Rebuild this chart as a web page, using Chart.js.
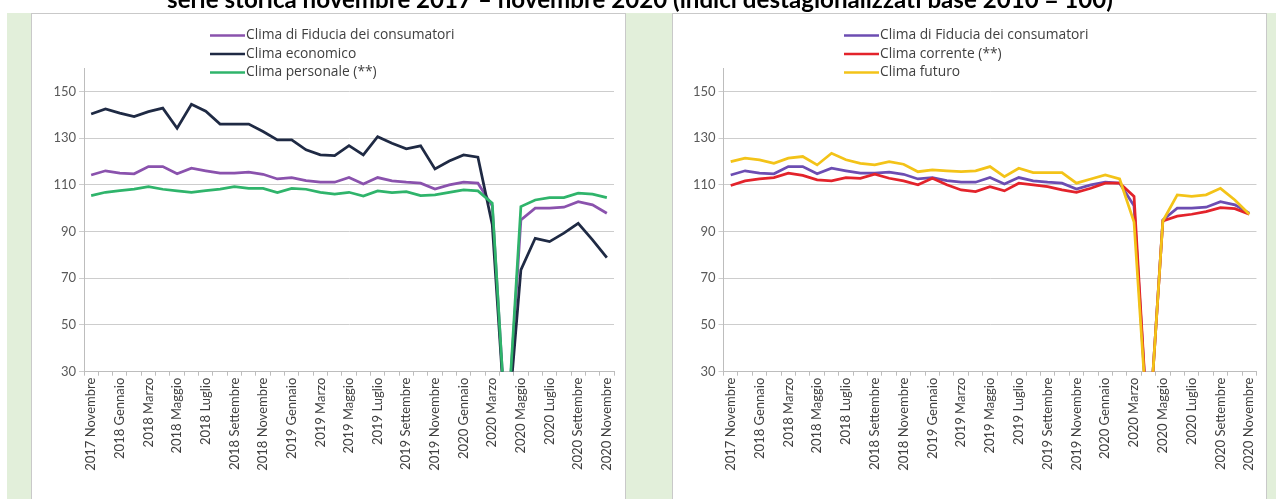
<!DOCTYPE html>
<html>
<head>
<meta charset="utf-8">
<script src="https://cdn.jsdelivr.net/npm/chart.js@4.4.0/dist/chart.umd.min.js"></script>
<style>
  html, body { margin: 0; padding: 0; background: #fff; width: 1276px; height: 499px; overflow: hidden; }
  body { position: relative; }
  #band { position: absolute; left: 7px; top: 13px; width: 1269px; height: 486px; background: #e2efda; }
  .box { position: absolute; top: 13px; width: 595px; height: 500px; background: #fff; border: 1px solid #c9c9c9; box-sizing: border-box; }
  .panel { position: absolute; top: 13px; width: 595px; height: 486px; }
  #titleCanvas { position: absolute; left: 0; top: 0; }
</style>
</head>
<body>
<div id="band"></div>
<div class="box" style="left:31px"></div>
<div class="box" style="left:672px"></div>
<div class="panel" style="left:31px"><canvas id="chartLeft"></canvas></div>
<div class="panel" style="left:672px"><canvas id="chartRight"></canvas></div>
<canvas id="titleCanvas" width="1276" height="13"></canvas>

<script>
// Monthly periods, November 2017 – November 2020 (April 2020: survey not carried out, plotted as zero)
const months = [
  "2017 Novembre", "2017 Dicembre",
  "2018 Gennaio", "2018 Febbraio", "2018 Marzo", "2018 Aprile", "2018 Maggio", "2018 Giugno",
  "2018 Luglio", "2018 Agosto", "2018 Settembre", "2018 Ottobre", "2018 Novembre", "2018 Dicembre",
  "2019 Gennaio", "2019 Febbraio", "2019 Marzo", "2019 Aprile", "2019 Maggio", "2019 Giugno",
  "2019 Luglio", "2019 Agosto", "2019 Settembre", "2019 Ottobre", "2019 Novembre", "2019 Dicembre",
  "2020 Gennaio", "2020 Febbraio", "2020 Marzo", "2020 Aprile", "2020 Maggio", "2020 Giugno",
  "2020 Luglio", "2020 Agosto", "2020 Settembre", "2020 Ottobre", "2020 Novembre"
];

// Seasonally adjusted indices, base 2010 = 100
const climaFiducia = [
  114.2, 116.0, 115.0, 114.7, 117.8, 117.8, 114.7, 117.1, 116.0, 115.0, 115.0, 115.4, 114.5,
  112.5, 113.1, 111.8, 111.1, 111.1, 113.1, 110.3, 113.1, 111.7, 111.1, 110.7, 108.2, 110.0,
  111.1, 110.7, 101.0, 0, 95.0, 100.0, 100.0, 100.4, 102.8, 101.4, 97.8
];
const climaEconomico = [
  140.3, 142.5, 140.7, 139.2, 141.3, 142.8, 134.2, 144.5, 141.5, 136.0, 136.0, 136.0, 132.8,
  129.2, 129.2, 125.0, 122.8, 122.5, 126.8, 122.8, 130.6, 127.8, 125.4, 126.7, 116.8, 120.2,
  122.8, 121.8, 93.0, 0, 73.6, 87.1, 85.7, 89.3, 93.5, 86.4, 78.8
];
const climaPersonale = [
  105.4, 106.8, 107.5, 108.2, 109.2, 108.1, 107.4, 106.8, 107.5, 108.2, 109.2, 108.5, 108.5,
  106.7, 108.5, 108.1, 106.8, 106.0, 106.8, 105.2, 107.4, 106.7, 107.1, 105.4, 105.7, 106.8,
  107.8, 107.4, 102.1, 0, 100.7, 103.5, 104.5, 104.5, 106.4, 106.0, 104.5
];
const climaCorrente = [
  109.7, 111.7, 112.5, 113.1, 115.0, 114.0, 112.1, 111.7, 113.1, 112.8, 114.5, 112.8, 111.7,
  110.0, 112.8, 110.0, 107.8, 107.1, 109.2, 107.4, 110.7, 110.0, 109.2, 107.8, 106.8, 108.5,
  110.7, 110.7, 105.0, 0, 94.5, 96.6, 97.4, 98.5, 100.2, 99.8, 97.4
];
const climaFuturo = [
  119.9, 121.4, 120.7, 119.2, 121.4, 122.1, 118.5, 123.5, 120.7, 119.2, 118.5, 119.9, 118.8,
  115.6, 116.4, 116.0, 115.6, 116.0, 117.8, 113.5, 117.1, 115.2, 115.2, 115.2, 110.7, 112.5,
  114.2, 112.5, 94.0, 0, 94.5, 105.7, 105.0, 105.7, 108.5, 103.5, 97.4
];

const yTickValues = [30, 50, 70, 90, 110, 130, 150];
const yMin = 30, yMax = 160;

const titleText = "serie storica novembre 2017 – novembre 2020 (indici destagionalizzati base 2010 = 100)";

const FONT = "Lato, 'Open Sans', sans-serif";
const LEGEND_FONT = "13.8px 'Open Sans', Lato, sans-serif";

// Excel-style stacked legend: short line sample followed by the series name
const stackedLegend = {
  id: 'stackedLegend',
  afterDraw(chart, args, opts) {
    const ctx = chart.ctx;
    ctx.save();
    ctx.font = opts.font;
    ctx.textBaseline = 'middle';
    ctx.textAlign = 'left';
    chart.data.datasets.forEach((ds, i) => {
      const y = opts.top + i * opts.rowGap;
      ctx.strokeStyle = ds.borderColor;
      ctx.lineWidth = 2.5;
      ctx.beginPath();
      ctx.moveTo(opts.left, y);
      ctx.lineTo(opts.left + opts.lineLen, y);
      ctx.stroke();
      ctx.fillStyle = opts.color;
      ctx.fillText(ds.label, opts.left + opts.lineLen + 1, y);
    });
    ctx.restore();
  }
};

function makeChart(canvasId, series, legendLeft, axisWidth, padRight) {
  const datasets = series.map((s, i) => ({
    label: s.label,
    data: s.data,
    borderColor: s.color,
    backgroundColor: s.color,
    borderWidth: 2.75,
    pointRadius: 0,
    tension: 0,
    fill: false,
    order: series.length - 1 - i
  }));
  return new Chart(document.getElementById(canvasId), {
    type: 'line',
    data: { labels: months, datasets },
    options: {
      responsive: true,
      maintainAspectRatio: false,
      animation: false,
      events: [],
      layout: { padding: { top: 55, right: padRight, left: 0, bottom: 0 } },
      plugins: {
        legend: { display: false },
        tooltip: { enabled: false },
        stackedLegend: { left: legendLeft, top: 22.5, rowGap: 18.5, lineLen: 35, font: LEGEND_FONT, color: '#404040' }
      },
      scales: {
        x: {
          offset: true,
          grid: { display: true, drawOnChartArea: false, offset: true, color: '#bdbdbd', tickLength: 4 },
          border: { display: true, color: '#bdbdbd', width: 1 },
          ticks: {
            autoSkip: false, maxRotation: 90, minRotation: 90, padding: 2,
            color: '#404040', font: { family: FONT, size: 13 },
            callback: function (v, i) { return i % 2 === 0 ? this.getLabelForValue(v) : ''; }
          },
          afterFit: (scale) => { scale.height = 127.3; }
        },
        y: {
          min: yMin, max: yMax,
          grid: { color: '#cdcdcd', tickLength: 5, lineWidth: 1 },
          border: { display: true, color: '#bdbdbd', width: 1 },
          ticks: { color: '#595959', font: { family: FONT, size: 13 }, padding: 3 },
          afterBuildTicks: (scale) => { scale.ticks = yTickValues.map(v => ({ value: v })); },
          afterFit: (scale) => { scale.width = axisWidth; }
        }
      }
    },
    plugins: [stackedLegend]
  });
}

makeChart('chartLeft', [
  { label: 'Clima di Fiducia dei consumatori', data: climaFiducia, color: '#8a52ad' },
  { label: 'Clima economico', data: climaEconomico, color: '#1f2a44' },
  { label: 'Clima personale (**)', data: climaPersonale, color: '#2fb46b' }
], 179, 53, 12);

makeChart('chartRight', [
  { label: 'Clima di Fiducia dei consumatori', data: climaFiducia, color: '#6c4db2' },
  { label: 'Clima corrente (**)', data: climaCorrente, color: '#e3232b' },
  { label: 'Clima futuro', data: climaFuturo, color: '#f3c318' }
], 172, 51.5, 9);

// Heading line above the two panels (its upper part falls outside the page)
(function drawTitle() {
  const c = document.getElementById('titleCanvas');
  const ctx = c.getContext('2d');
  let size = 20;
  ctx.font = "bold " + size + "px " + FONT;
  const w = ctx.measureText(titleText).width;
  size = size * 946 / w;
  ctx.font = "bold " + size.toFixed(2) + "px " + FONT;
  ctx.fillStyle = '#000';
  ctx.textAlign = 'center';
  ctx.textBaseline = 'alphabetic';
  ctx.fillText(titleText, 640, 8);
})();
</script>
</body>
</html>
